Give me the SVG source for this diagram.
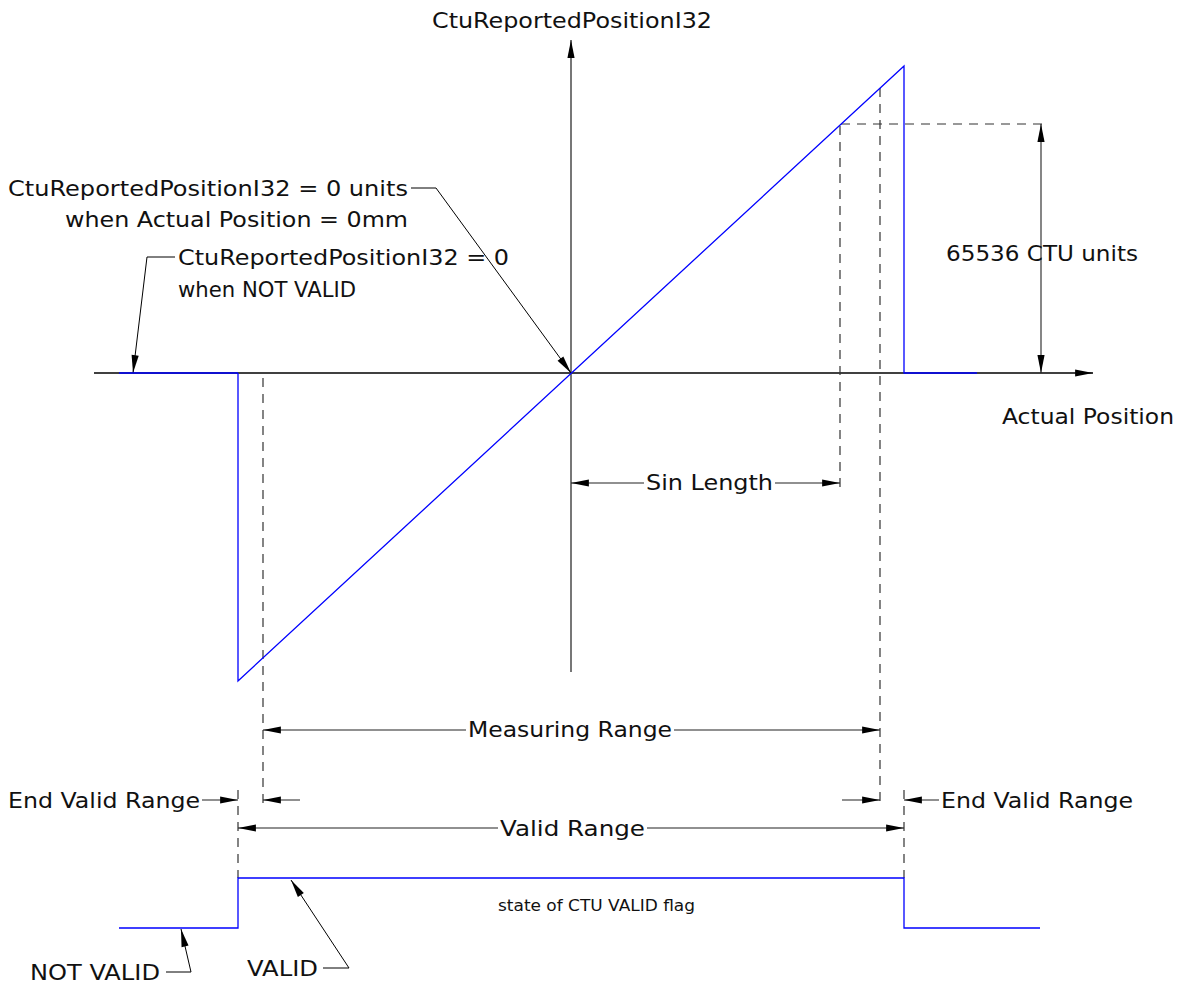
<svg xmlns="http://www.w3.org/2000/svg" width="1180" height="984" viewBox="0 0 1180 984">
<defs>
<marker id="ah" markerUnits="userSpaceOnUse" markerWidth="20" markerHeight="10" viewBox="-18 -4 19 8" refX="0" refY="0" orient="auto-start-reverse">
<path d="M0,0 L-17,-3.4 L-17,3.4 Z" fill="#000"/>
</marker>
</defs>
<style>
text{font-family:"DejaVu Sans","Liberation Sans",sans-serif;font-size:21px;fill:#111}
.sm{font-size:16.5px}
.ax{stroke:#000;stroke-width:1.3;fill:none}
.vax{stroke:#555;stroke-width:1.6;fill:none}
.dim{stroke:#222;stroke-width:1.1;fill:none}
.dash{stroke:#333;stroke-width:1.2;stroke-dasharray:9 7;fill:none}
.blue{stroke:#0000ff;stroke-width:1.3;fill:none}
.ld{stroke:#000;stroke-width:1;fill:none}
</style>
<rect width="1180" height="984" fill="#fff"/>

<g id="connectors">
<line class="ax" x1="94" y1="373" x2="1093" y2="373" marker-end="url(#ah)"/>
<line class="vax" x1="571" y1="672" x2="571" y2="40" marker-end="url(#ah)"/>
<line class="dash" x1="263" y1="378" x2="263" y2="808"/>
<line class="dash" x1="880" y1="88" x2="880" y2="808"/>
<line class="dash" x1="840" y1="126" x2="840" y2="490"/>
<line class="dash" x1="841" y1="124" x2="1048" y2="124"/>
<line class="dash" x1="238" y1="790" x2="238" y2="878"/>
<line class="dash" x1="904" y1="790" x2="904" y2="878"/>
<line class="dim" x1="571" y1="483" x2="644" y2="483" marker-start="url(#ah)"/>
<line class="dim" x1="775" y1="483" x2="840" y2="483" marker-end="url(#ah)"/>
<line class="dim" x1="1041" y1="124" x2="1041" y2="373" marker-start="url(#ah)" marker-end="url(#ah)"/>
<line class="dim" x1="263" y1="730" x2="466" y2="730" marker-start="url(#ah)"/>
<line class="dim" x1="674" y1="730" x2="880" y2="730" marker-end="url(#ah)"/>
<line class="dim" x1="202" y1="800" x2="238" y2="800" marker-end="url(#ah)"/>
<line class="dim" x1="300" y1="800" x2="263" y2="800" marker-end="url(#ah)"/>
<line class="dim" x1="842" y1="800" x2="880" y2="800" marker-end="url(#ah)"/>
<line class="dim" x1="939" y1="800" x2="904" y2="800" marker-end="url(#ah)"/>
<line class="dim" x1="238" y1="828" x2="498" y2="828" marker-start="url(#ah)"/>
<line class="dim" x1="647" y1="828" x2="904" y2="828" marker-end="url(#ah)"/>
<polyline class="ld" points="411,188 436,188 571,373" marker-end="url(#ah)"/>
<polyline class="ld" points="175,257 147,257 133,373" marker-end="url(#ah)"/>
<polyline class="ld" points="166,972 191,972 181,929" marker-end="url(#ah)"/>
<polyline class="ld" points="323,968 349,968 291,880" marker-end="url(#ah)"/>
</g>

<g id="signal">
<line class="blue" x1="119" y1="373" x2="238" y2="373"/>
<polyline class="blue" points="238,373 238,681 904,66 904,373 977,373"/>
</g>

<g id="flag">
<polyline class="blue" points="119,928 238,928 238,878 904,878 904,928 1040,928"/>
</g>

<g id="labels">
<text x="432" y="28" textLength="280" lengthAdjust="spacingAndGlyphs">CtuReportedPositionI32</text>
<text x="8" y="196" textLength="400" lengthAdjust="spacingAndGlyphs">CtuReportedPositionI32 = 0 units</text>
<text x="65" y="227" textLength="343" lengthAdjust="spacingAndGlyphs">when Actual Position = 0mm</text>
<text x="178" y="265" textLength="331" lengthAdjust="spacingAndGlyphs">CtuReportedPositionI32 = 0</text>
<text x="178" y="297" textLength="178" lengthAdjust="spacingAndGlyphs">when NOT VALID</text>
<text x="946" y="261" textLength="192" lengthAdjust="spacingAndGlyphs">65536 CTU units</text>
<text x="1002" y="424" textLength="172" lengthAdjust="spacingAndGlyphs">Actual Position</text>
<text x="646" y="490" textLength="127" lengthAdjust="spacingAndGlyphs">Sin Length</text>
<text x="468" y="737" textLength="204" lengthAdjust="spacingAndGlyphs">Measuring Range</text>
<text x="8" y="808" textLength="192" lengthAdjust="spacingAndGlyphs">End Valid Range</text>
<text x="941" y="808" textLength="192" lengthAdjust="spacingAndGlyphs">End Valid Range</text>
<text x="500" y="836" textLength="145" lengthAdjust="spacingAndGlyphs">Valid Range</text>
<text class="sm" x="498" y="911" textLength="197" lengthAdjust="spacingAndGlyphs">state of CTU VALID flag</text>
<text x="30" y="980" textLength="130" lengthAdjust="spacingAndGlyphs">NOT VALID</text>
<text x="247" y="976" textLength="71" lengthAdjust="spacingAndGlyphs">VALID</text>
</g>
</svg>
